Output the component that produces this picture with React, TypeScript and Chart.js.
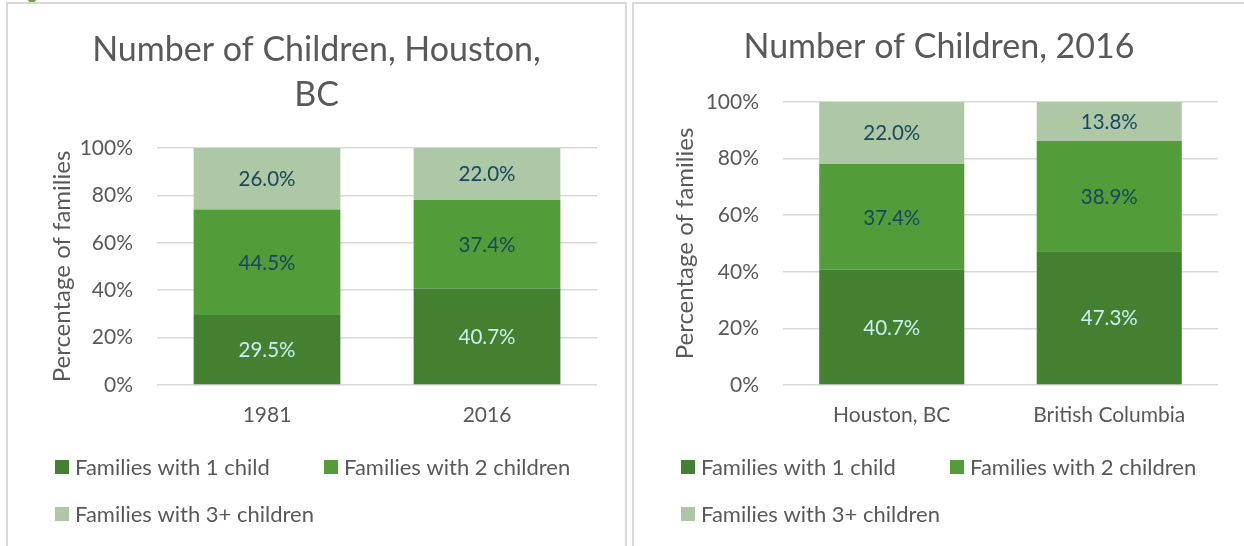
import React, { useEffect, useRef } from "react";
import { Chart, registerables } from "chart.js";

Chart.register(...registerables);

// ---------- data ----------
const seriesLabels = ["Families with 1 child", "Families with 2 children", "Families with 3+ children"];
const seriesColors = ["#43802F", "#529C3A", "#AEC8A6"];
const valueLabelColors = ["#CDEEF3", "#17485E", "#17485E"];

const leftTitle = ["Number of Children, Houston,", "BC"];
const leftCategories = ["1981", "2016"];
const leftOneChild = [29.5, 40.7];
const leftTwoChildren = [44.5, 37.4];
const leftThreePlus = [26.0, 22.0];

const rightTitle = ["Number of Children, 2016"];
const rightCategories = ["Houston, BC", "British Columbia"];
const rightOneChild = [40.7, 47.3];
const rightTwoChildren = [37.4, 38.9];
const rightThreePlus = [22.0, 13.8];

const yAxisTitle = "Percentage of families";
const yMin = 0;
const yMax = 100;
const yStep = 20;

// ---------- styling ----------
const FONT = "Lato, 'Open Sans', 'DejaVu Sans', sans-serif";
const TEXT = "#595959";
const GRID = "#D9D9D9";

const valueLabelsPlugin = {
  id: "valueLabels",
  afterDatasetsDraw(chart: any) {
    const ctx = chart.ctx;
    ctx.save();
    ctx.font = `20.5px ${FONT}`;
    ctx.textAlign = "center";
    ctx.textBaseline = "middle";
    chart.data.datasets.forEach((ds: any, di: number) => {
      const meta = chart.getDatasetMeta(di);
      meta.data.forEach((el: any, i: number) => {
        const { x, y, base } = el.getProps(["x", "y", "base"], true);
        ctx.fillStyle = valueLabelColors[di];
        ctx.fillText(Number(ds.data[i]).toFixed(1) + "%", x, (y + base) / 2 + 1);
      });
    });
    ctx.restore();
  },
};

const boxLegendPlugin = {
  id: "boxLegend",
  afterDraw(chart: any, _args: any, opts: any) {
    const ctx = chart.ctx;
    ctx.save();
    ctx.font = `22px ${FONT}`;
    ctx.textBaseline = "middle";
    ctx.textAlign = "left";
    chart.data.datasets.forEach((ds: any, di: number) => {
      const col = di % 2;
      const row = Math.floor(di / 2);
      const bx = opts.x + col * opts.colStep;
      const cy = opts.y + row * opts.rowStep;
      ctx.fillStyle = ds.backgroundColor;
      ctx.fillRect(bx, cy - 7, 14, 14);
      ctx.fillStyle = TEXT;
      ctx.fillText(ds.label, bx + opts.textGap, cy + 1);
    });
    ctx.restore();
  },
};

type PanelProps = {
  left: number;
  top: number;
  width: number;
  height: number;
  title: string[];
  categories: string[];
  series: number[][];
  area: { left: number; right: number; top: number; bottom: number };
  titleCenterY: number;
  yTitleX: number;
};

function Panel(p: PanelProps) {
  const ref = useRef<HTMLCanvasElement | null>(null);

  useEffect(() => {
    if (!ref.current) return;
    const titleSize = 34;
    const titleLine = 45;
    const titlePadTop = p.titleCenterY - titleLine / 2;
    const titlePadBottom = p.area.top - titlePadTop - titleLine * p.title.length;
    const xAxisHeight = 50;
    const bottomPad = p.height - p.area.bottom - xAxisHeight;
    const yTitleSize = 24;
    const yTitleLine = yTitleSize * 1.2;
    const rightGap = p.width - p.area.right;

    const chart = new Chart(ref.current, {
      type: "bar",
      data: {
        labels: p.categories,
        datasets: p.series.map((vals, i) => ({
          label: seriesLabels[i],
          data: vals,
          backgroundColor: seriesColors[i],
          borderWidth: 0,
          categoryPercentage: 1,
          barPercentage: 0.667,
        })),
      },
      options: {
        responsive: false,
        animation: false,
        layout: {
          padding: { left: 0, top: 0, right: 0, bottom: bottomPad },
        },
        plugins: {
          legend: { display: false },
          tooltip: { enabled: false },
          title: {
            display: true,
            text: p.title,
            color: TEXT,
            font: { family: FONT, size: titleSize, weight: "normal", lineHeight: titleLine / titleSize },
            padding: { top: titlePadTop, bottom: titlePadBottom },
          },
          boxLegend: { x: 47, y: 463, colStep: 269, rowStep: 47, textGap: 20 },
        } as any,
        scales: {
          x: {
            stacked: true,
            grid: { display: false, drawTicks: false },
            border: { display: false },
            ticks: { color: TEXT, font: { family: FONT, size: 21 }, padding: 18 },
            afterFit: (s: any) => {
              s.height = xAxisHeight;
            },
          },
          y: {
            stacked: true,
            min: yMin,
            max: yMax,
            grid: { color: GRID, lineWidth: 1.5, drawTicks: false },
            border: { display: false },
            ticks: {
              stepSize: yStep,
              color: TEXT,
              font: { family: FONT, size: 21 },
              padding: 24,
              callback: (v: any) => v + "%",
            },
            title: {
              display: true,
              text: yAxisTitle,
              color: TEXT,
              font: { family: FONT, size: yTitleSize, weight: "normal", lineHeight: 1.2 },
              padding: { top: p.yTitleX - yTitleLine / 2, bottom: 0 },
            },
            afterFit: (s: any) => {
              s.width = p.area.left;
            },
          },
          ySpacer: {
            type: "linear",
            position: "right",
            display: true,
            min: yMin,
            max: yMax,
            grid: { display: false, drawTicks: false },
            border: { display: false },
            ticks: { display: false },
            afterFit: (s: any) => {
              s.width = rightGap;
            },
          },
        },
      } as any,
      plugins: [valueLabelsPlugin, boxLegendPlugin],
    });

    let alive = true;
    if ((document as any).fonts && (document as any).fonts.ready) {
      (document as any).fonts.ready.then(() => {
        if (alive) chart.update("none");
      });
    }
    return () => {
      alive = false;
      chart.destroy();
    };
  }, []);

  return (
    <canvas
      ref={ref}
      width={p.width}
      height={p.height}
      style={{ position: "absolute", left: p.left, top: p.top, width: p.width, height: p.height }}
    />
  );
}

export default function App() {
  const border = "2px solid #D9D9D9";
  return (
    <div
      style={{
        position: "fixed",
        left: 0,
        top: 0,
        width: 1244,
        height: 546,
        overflow: "hidden",
        background: "#FFFFFF",
      }}
    >
      <div
        style={{
          position: "absolute",
          left: 28,
          top: -3,
          width: 8,
          height: 5,
          borderRadius: 3,
          background: "#5BAF45",
        }}
      />
      <div
        style={{
          position: "absolute",
          left: 6,
          top: 2,
          width: 621,
          height: 600,
          boxSizing: "border-box",
          border,
        }}
      />
      <div
        style={{
          position: "absolute",
          left: 632,
          top: 2,
          width: 640,
          height: 600,
          boxSizing: "border-box",
          border,
        }}
      />
      <Panel
        left={8}
        top={4}
        width={617}
        height={542}
        title={leftTitle}
        categories={leftCategories}
        series={[leftOneChild, leftTwoChildren, leftThreePlus]}
        area={{ left: 149, right: 589, top: 144, bottom: 381 }}
        titleCenterY={46}
        yTitleX={54}
      />
      <Panel
        left={634}
        top={4}
        width={610}
        height={542}
        title={rightTitle}
        categories={rightCategories}
        series={[rightOneChild, rightTwoChildren, rightThreePlus]}
        area={{ left: 149, right: 584, top: 98, bottom: 381 }}
        titleCenterY={43}
        yTitleX={51}
      />
    </div>
  );
}
